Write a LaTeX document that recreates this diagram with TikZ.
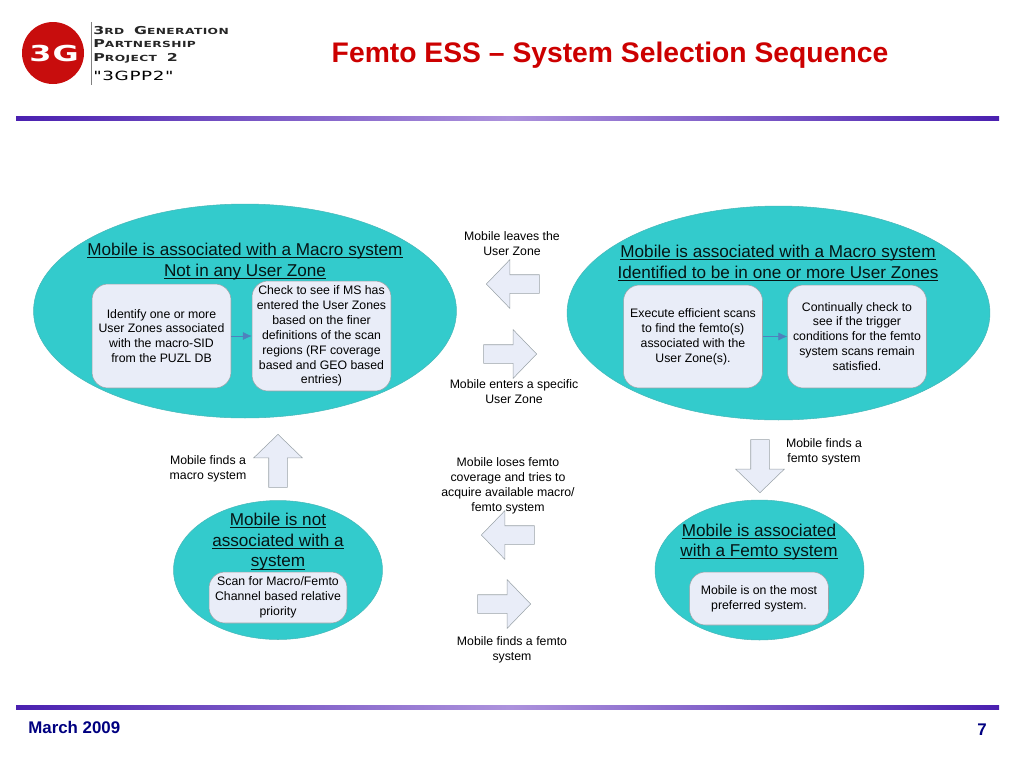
\documentclass[tikz,border=0pt]{standalone}
\usepackage{fontspec}
\setmainfont{Liberation Sans}
\newfontfamily\logofont[FakeStretch=1.45,LetterSpace=5]{DejaVu Sans}
\usepackage{tikz}
\usetikzlibrary{arrows.meta,shapes.geometric,shapes.arrows}
\definecolor{zoneteal}{HTML}{33CBCC}
\definecolor{boxfill}{HTML}{E9EDF8}
\definecolor{boxline}{HTML}{9AA3A8}
\definecolor{ruledark}{HTML}{4A20B0}
\definecolor{rulelight}{HTML}{AC92DC}
\definecolor{titlered}{HTML}{CC0000}
\definecolor{footnavy}{HTML}{000080}
\definecolor{linkblue}{HTML}{4F81BD}
\definecolor{logored}{HTML}{C80D0D}
\newcommand{\LOGOCAP}[2]{{\fontsize{6.2}{7}\selectfont #1}{\fontsize{4.8}{7}\selectfont #2}}
\newcommand{\ZONEUL}[1]{\setbox0\hbox{#1}\rlap{\rule[-1.3pt]{\wd0}{0.4pt}}\box0}

\begin{document}
\begin{tikzpicture}[
    x=0.02cm, y=-0.02cm,
    >={Latex[length=5pt,width=4.5pt]},
    every node/.style={align=center, inner sep=0pt, font=\fontsize{7}{8.5}\selectfont},
    zone/.style={draw=zoneteal!75!gray, fill=zoneteal, ellipse, line width=0.3pt},
    head/.style={font=\fontsize{9.75}{11.7}\selectfont, text=black!90!zoneteal},
    stepbox/.style={draw=boxline, fill=boxfill, rounded corners=0.32cm, line width=0.3pt, minimum width=2.78cm},
    move/.style={draw=boxline, fill=boxfill, line width=0.3pt, single arrow, single arrow head indent=0pt, anchor=tip,
        single arrow tip angle=92, single arrow head extend=0.3cm, inner sep=0.18cm, minimum height=1.06cm},
    link/.style={->, linkblue, line width=0.3pt},
    note/.style={text=black},
    logoline/.style={anchor=west, font=\logofont\bfseries, text=black!85}
]
    \useasboundingbox (0,0) rectangle (1024,768);

    \shade[left color=ruledark, right color=ruledark, middle color=rulelight] (16,116) rectangle (999,120);
    \shade[left color=ruledark, right color=ruledark, middle color=rulelight] (16,705) rectangle (999,709);

    \fill[logored] (53,53) circle (31);
    \node[font=\logofont\bfseries\fontsize{12.5}{14}\selectfont, text=white] (logomark) at (54,54) {3G};
    \draw[gray, line width=0.4pt] (91,22) -- (91,85);
    \node[logoline] (logoa) at (93,31) {\LOGOCAP{3}{RD} \LOGOCAP{G}{ENERATION}};
    \node[logoline] (logob) at (93,44) {\LOGOCAP{P}{ARTNERSHIP}};
    \node[logoline] (logoc) at (93,58) {\LOGOCAP{P}{ROJECT} \LOGOCAP{2}{}};
    \node[anchor=west, font=\logofont\fontsize{7.2}{9}\selectfont, text=black] (logod) at (93,76) {"3GPP2"};

    \node[font=\bfseries\fontsize{16.1}{18}\selectfont, text=titlered] (title) at (610,55) {Femto ESS -- System Selection Sequence};

    \node[zone, minimum width=8.46cm, minimum height=4.28cm] (macroa) at (245,311) {};
    \node[zone, minimum width=8.46cm, minimum height=4.28cm] (macrob) at (778.5,313) {};
    \node[zone, minimum width=4.18cm, minimum height=2.78cm] (nosys) at (278,570) {};
    \node[zone, minimum width=4.18cm, minimum height=2.8cm] (femto) at (759.5,570) {};

    \node[head] (macroatext) at (245,261.5) {\ZONEUL{Mobile is associated with a Macro system}\\\ZONEUL{Not in any User Zone}};
    \node[head] (macrobtext) at (778,263) {\ZONEUL{Mobile is associated with a Macro system}\\\ZONEUL{Identified to be in one or more User Zones}};
    \node[head] (nosystext) at (278,542) {\ZONEUL{Mobile is not}\\\ZONEUL{associated with a}\\\ZONEUL{system}};
    \node[head] (femtotext) at (759,542) {\ZONEUL{Mobile is associated}\\\ZONEUL{with a Femto system}};

    \node[stepbox, minimum height=2.08cm] (identify) at (161.5,336) {Identify one or more\\User Zones associated\\with the macro-SID\\from the PUZL DB};
    \node[stepbox, minimum height=2.2cm] (check) at (321.5,336) {Check to see if MS has\\entered the User Zones\\based on the finer\\definitions of the scan\\regions (RF coverage\\based and GEO based\\entries)};
    \node[stepbox, minimum height=2.06cm] (execute) at (693,336.5) {Execute efficient scans\\to find the femto(s)\\associated with the\\User Zone(s).};
    \node[stepbox, minimum height=2.06cm] (trigger) at (857,336.5) {Continually check to\\see if the trigger\\conditions for the femto\\system scans remain\\satisfied.};
    \node[stepbox, minimum width=2.76cm, minimum height=1.02cm] (scan) at (278,597.5) {Scan for Macro/Femto\\Channel based relative\\priority};
    \node[stepbox, minimum height=1.06cm] (preferred) at (759,598.5) {Mobile is on the most\\preferred system.};

    \draw[link] (identify) -- (check);
    \draw[link] (execute) -- (trigger);

    \node[move, shape border rotate=180] (leaves) at (486,284) {};
    \node[move] (enters) at (537,354) {};
    \node[move, shape border rotate=90] (findsmacro) at (278,434) {};
    \node[move, shape border rotate=270] (findsfemto) at (760,493) {};
    \node[move, shape border rotate=180] (loses) at (481,535) {};
    \node[move] (findsfemtob) at (531,604) {};

    \node[note] (leavestext) at (512,243.5) {Mobile leaves the\\User Zone};
    \node[note] (enterstext) at (514,392) {Mobile enters a specific\\User Zone};
    \node[note] (macrotext) at (208,469) {Mobile finds a\\macro system};
    \node[note] (femtonote) at (824,452) {Mobile finds a\\femto system};
    \node[note] (losestext) at (508,485.5) {Mobile loses femto\\coverage and tries to\\acquire available macro/\\femto system};
    \node[note] (foundtext) at (512,649.5) {Mobile finds a femto\\system};

    \node[anchor=west, font=\bfseries\fontsize{9.6}{11}\selectfont, text=footnavy] (date) at (28,727) {March 2009};
    \node[font=\bfseries\fontsize{9.6}{11}\selectfont, text=footnavy] (page) at (982,730) {7};
\end{tikzpicture}
\end{document}
